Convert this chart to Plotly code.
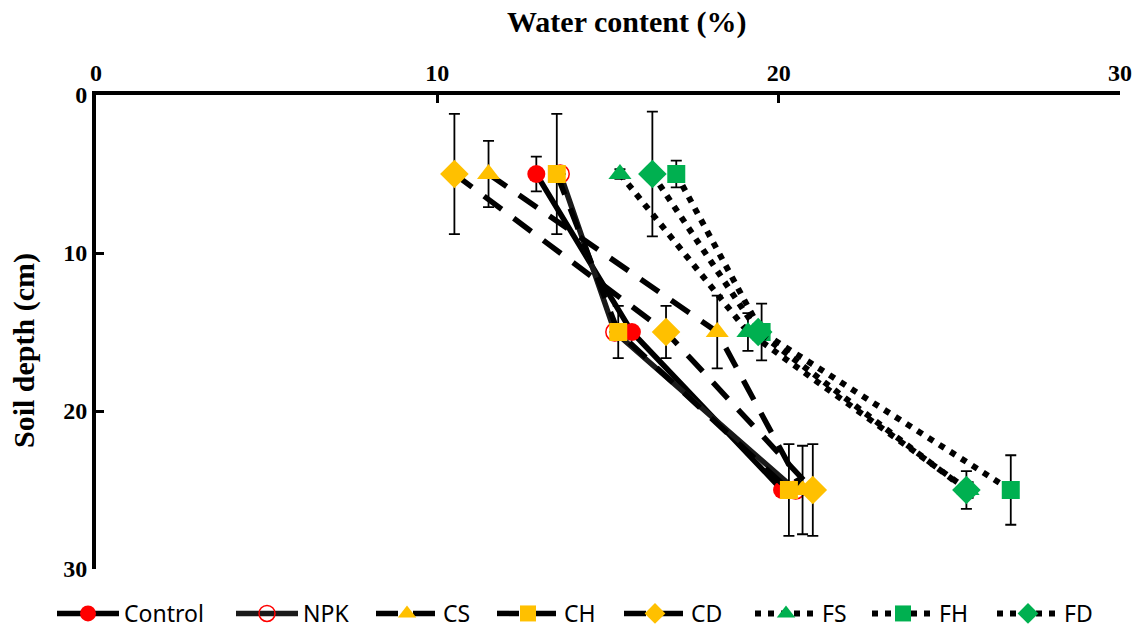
import plotly.graph_objects as go

depth = [5, 15, 25]
series_names = ["Control", "NPK", "CS", "CH", "CD", "FS", "FH", "FD"]
control = [12.9, 15.7, 20.1]
npk = [13.6, 15.2, 20.5]
cs = [11.5, 18.2, 20.7]
ch = [13.5, 15.3, 20.3]
cd = [10.5, 16.7, 21.0]
fs = [15.35, 19.1, 25.55]
fh = [17.0, 19.5, 26.8]
fd = [16.3, 19.4, 25.5]

err_control = [1.1, 0.0, 0.0]
err_npk = [0.0, 0.0, 0.0]
err_cs = [2.1, 2.3, 2.8]
err_ch = [3.8, 1.65, 2.9]
err_cd = [3.8, 1.65, 2.9]
err_fs = [0.3, 1.2, 0.5]
err_fh = [0.85, 1.8, 2.2]
err_fd = [3.95, 0.0, 1.2]

x_title = "Water content (%)"
y_title = "Soil depth (cm)"

values = [control, npk, cs, ch, cd, fs, fh, fd]
errors = [err_control, err_npk, err_cs, err_ch, err_cd, err_fs, err_fh, err_fd]

RED = "#FF0000"
YEL = "#FFC000"
GRN = "#00B050"
DASH = "22px,15px"
DOT = "6px,7px"
styles = [
    dict(dash="solid", lc="#000000", sym="circle", mc=RED, size=18, open=False),
    dict(dash="solid", lc="#1a1a1a", sym="circle-open", mc=RED, size=18, open=True),
    dict(dash=DASH, lc="#000000", sym="triangle-up", mc=YEL, size=20, open=False),
    dict(dash=DASH, lc="#000000", sym="square", mc=YEL, size=18, open=False),
    dict(dash=DASH, lc="#000000", sym="diamond", mc=YEL, size=22, open=False),
    dict(dash=DOT, lc="#000000", sym="triangle-up", mc=GRN, size=20, open=False),
    dict(dash=DOT, lc="#000000", sym="square", mc=GRN, size=18, open=False),
    dict(dash=DOT, lc="#000000", sym="diamond", mc=GRN, size=22, open=False),
]

# legend text start positions (page px) for each entry
legend_text_px = [126, 305, 445, 566, 693, 824, 941, 1066]
W, H = 1144, 635
PL, PR, PT, PB = 96, 1120, 95, 569
ITEMW = 62
legend_keys = ["legend"] + [f"legend{i}" for i in range(2, 9)]

fig = go.Figure()
for name, xs, es, st, lk in zip(series_names, values, errors, styles, legend_keys):
    marker = dict(symbol=st["sym"], color=st["mc"], size=st["size"])
    if st["open"]:
        marker["line"] = dict(color=st["mc"], width=1.5)
    else:
        marker["line"] = dict(width=0)
    lw = 6 if st["dash"] == DOT else 5.5
    fig.add_trace(go.Scatter(
        x=xs, y=depth, name=name, mode="lines+markers",
        line=dict(color=st["lc"], width=lw, dash=st["dash"]),
        marker=marker, legend=lk,
        error_y=dict(type="data", array=es, visible=True, color="#000000",
                     thickness=1.8, width=5.5),
    ))

legends = {}
for lk, tx in zip(legend_keys, legend_text_px):
    left = tx - ITEMW - 12
    legends[lk] = dict(
        orientation="h", xref="container", yref="container",
        x=left / W, xanchor="left",
        y=0.0, yanchor="bottom",
        font=dict(family="Noto Sans", size=23, color="#000000"),
        itemwidth=ITEMW, bgcolor="rgba(0,0,0,0)", borderwidth=0,
    )

serif = "Liberation Serif"
fig.update_layout(
    width=W, height=H,
    paper_bgcolor="white", plot_bgcolor="white",
    margin=dict(l=PL, r=W - PR, t=PT, b=H - PB, autoexpand=False),
    showlegend=True,
    xaxis=dict(
        side="top", range=[0, 30], tickvals=[0, 10, 20, 30],
        showline=True, linewidth=4, linecolor="#000000", mirror=False,
        ticks="inside", ticklen=8, tickwidth=3, tickcolor="#000000",
        showgrid=False, zeroline=False, automargin=False,
        tickfont=dict(family=serif, size=24, color="#000000", weight="bold"),
    ),
    yaxis=dict(
        range=[30, 0], tickvals=[0, 10, 20, 30],
        showline=True, linewidth=4, linecolor="#000000", mirror=False,
        ticks="inside", ticklen=8, tickwidth=3, tickcolor="#000000",
        showgrid=False, zeroline=False, automargin=False,
        tickfont=dict(family=serif, size=24, color="#000000", weight="bold"),
    ),
    annotations=[
        dict(text=f"<b>{x_title}</b>", xref="paper", yref="paper",
             x=(626 - PL) / (PR - PL), y=(PB - 22) / (PB - PT),
             xanchor="center", yanchor="middle", showarrow=False,
             font=dict(family=serif, size=30, color="#000000")),
        dict(text=f"<b>{y_title}</b>", xref="paper", yref="paper", textangle=-90,
             x=(24 - PL) / (PR - PL), y=(PB - 351) / (PB - PT),
             xanchor="center", yanchor="middle", showarrow=False,
             font=dict(family=serif, size=30, color="#000000")),
    ],
    **legends,
)

fig.write_html("out.html", config={"displayModeBar": False},
               post_script="document.body.style.margin='0';")
